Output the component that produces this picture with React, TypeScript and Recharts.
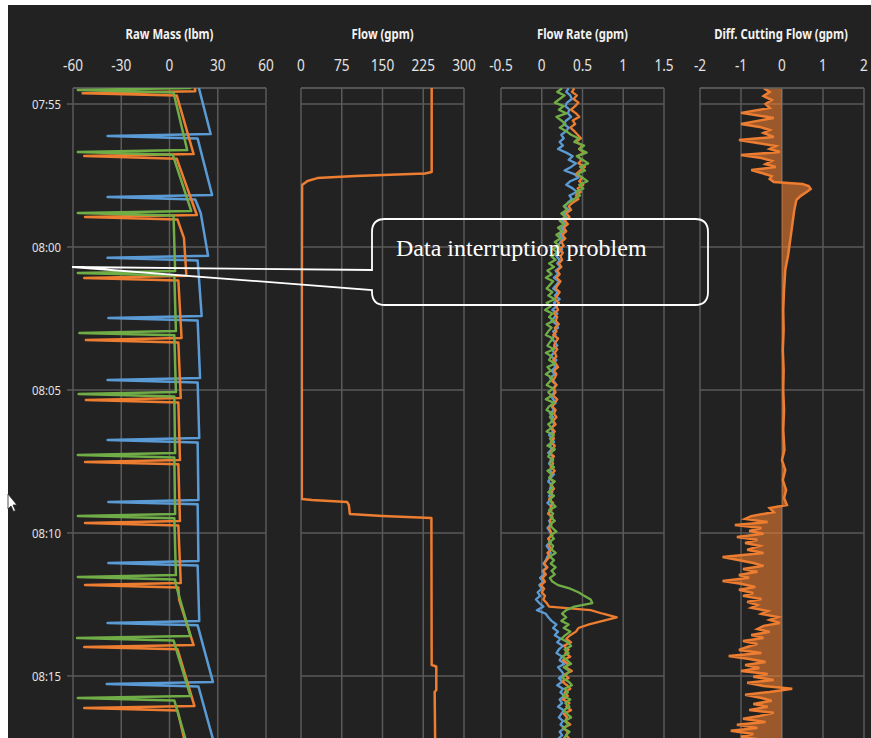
import React from "react";
import {
  ComposedChart,
  Line,
  Area,
  XAxis,
  YAxis,
  CartesianGrid,
  ReferenceLine,
} from "recharts";

const BLUE = "#5b9bd5";
const ORANGE = "#ed7d31";
const GREEN = "#70ad47";
const GRID = "#5a5a5a";
const TEXT = "#e4e4e4";
const BG = "#222222";
const FONT = "'Noto Sans', 'Open Sans', sans-serif";

// time in minutes after 07:00
const T_START = 54.44;
const T_END = 77.94;
const timeTicks = [55, 60, 65, 70, 75];

const massTicks = [-60, -30, 0, 30, 60];
const flowTicks = [0, 75, 150, 225, 300];
const rateTicks = [-0.5, 0, 0.5, 1, 1.5];
const diffTicks = [-2, -1, 0, 1, 2];

// Raw Mass (lbm)
const massBlueTime = [54.16, 56.05, 56.12, 56.21, 58.18, 58.25, 58.34, 58.81, 60.31, 60.38, 60.47, 62.41, 62.48, 62.57, 64.58, 64.65, 64.74, 66.68, 66.75, 66.84, 68.85, 68.92, 69.0, 70.98, 71.05, 71.14, 73.08, 73.15, 73.23, 75.21, 75.28, 75.37, 77.41];
const massBlueValue = [17, 25.6, -38.5, 17.5, 26.5, -38.5, 16, 19.4, 24, -38.5, 17.5, 20, -38, 17.5, 19, -38.5, 17.5, 18.5, -38.5, 17.5, 18, -38, 17.5, 18, -38, 17.5, 18.5, -38.5, 17.5, 27, -39, 18, 28];

const massOrangeTime = [54.16, 54.55, 54.62, 54.7, 56.75, 56.82, 56.91, 58.88, 58.95, 59.04, 59.69, 61.01, 61.08, 61.17, 63.18, 63.25, 63.34, 65.28, 65.35, 65.44, 67.45, 67.52, 67.6, 69.58, 69.65, 69.74, 71.75, 71.82, 71.91, 72.34, 73.92, 73.99, 74.07, 76.05, 76.12, 76.21, 77.41];
const massOrangeValue = [15.5, 16, -54, 4.5, 15, -53, 4.5, 17, -52.5, 5, 9, 10.5, -53, 5.5, 7.5, -52, 5.5, 7, -52, 5.5, 6.5, -52.5, 5.5, 6.5, -52.5, 5.5, 7, -52.5, 5.5, 6, 15, -53, 5, 15.5, -53, 5, 10];

const massGreenTime = [54.16, 54.44, 54.51, 54.6, 56.61, 56.68, 56.77, 58.74, 58.81, 58.9, 60.84, 60.91, 61.0, 62.94, 63.01, 63.09, 65.07, 65.14, 65.23, 67.2, 67.27, 67.36, 69.34, 69.41, 69.49, 71.47, 71.54, 71.63, 71.82, 73.6, 73.67, 73.76, 75.7, 75.77, 75.86, 77.41];
const massGreenValue = [12.5, 13, -57, 2.5, 11, -57, 2, 13.5, -57, 2.5, 3.5, -57, 3, 4, -56, 3, 4, -56.5, 3, 3.5, -57, 3, 3.5, -57, 3, 4, -57, 3.5, 4, 13, -57.5, 2.5, 13, -57, 3, 11];

// Flow (gpm)
const flowTime = [54.16, 57.38, 57.43, 57.52, 57.59, 57.69, 57.83, 61.85, 68.81, 68.85, 68.92, 69.02, 69.34, 69.41, 69.48, 74.62, 74.67, 75.49, 75.56, 77.41];
const flowValue = [240.5, 240.5, 228, 100, 30, 12, 2, 1.5, 1.5, 20, 85, 88, 90, 150, 240, 240.5, 249, 249, 246, 247];

// Flow Rate (gpm), one sample every 7.5 s from 07:54:27
const rateStart = 54.45;
const rateStep = 0.125;
const rateBlue = [
  0.33, 0.3, 0.35, 0.37, 0.31, 0.29, 0.34, 0.32, 0.36, 0.3, 0.27, 0.33, 0.3,
  0.24, 0.27, 0.22, 0.26,
  0.2, 0.3, 0.38, 0.33, 0.42, 0.36, 0.28, 0.4, 0.45, 0.35, 0.3, 0.38, 0.43, 0.34, 0.37,
  0.32, 0.28, 0.33, 0.27, 0.3, 0.25, 0.29, 0.24, 0.28, 0.22, 0.26, 0.23, 0.2, 0.25, 0.21, 0.18, 0.22,
  0.19, 0.23, 0.17, 0.2, 0.15, 0.21, 0.18, 0.14, 0.2, 0.16, 0.22, 0.15, 0.18, 0.13, 0.19, 0.16, 0.12, 0.18, 0.2, 0.14,
  0.17, 0.12, 0.16, 0.19, 0.13, 0.15, 0.11, 0.18, 0.14, 0.17, 0.12, 0.16, 0.1, 0.15, 0.18, 0.13, 0.16, 0.11, 0.14, 0.17,
  0.12, 0.15, 0.1, 0.14,
  0.12, 0.16, 0.11, 0.14, 0.09, 0.13, 0.15, 0.1, 0.12, 0.08, 0.14, 0.11, 0.09, 0.13, 0.1, 0.15, 0.11, 0.08, 0.12, 0.1,
  0.13, 0.09, 0.11, 0.07, 0.12, 0.1, 0.08, 0.13, 0.09, 0.11, 0.07, 0.1, 0.12, 0.08, 0.1, 0.06, 0.09, 0.11, 0.07,
  0.05, 0.02, 0.06, 0.01, 0.03, -0.02, 0.02, -0.03, 0.0,
  -0.05, -0.02, -0.07, -0.03, 0.02, -0.06, 0.05, 0.08,
  0.12, 0.18, 0.14, 0.2,
  0.16, 0.23, 0.19, 0.26, 0.21, 0.18, 0.25, 0.22, 0.28, 0.2, 0.24, 0.27, 0.21, 0.25, 0.19, 0.26, 0.23, 0.28, 0.22, 0.25,
  0.2, 0.27, 0.24, 0.21, 0.26, 0.23, 0.28, 0.22, 0.25, 0.2, 0.24, 0.26,
];
const rateOrange = [
  0.4, 0.37, 0.43, 0.39, 0.45, 0.41, 0.36, 0.42, 0.46, 0.38, 0.41, 0.35, 0.4,
  0.44, 0.48, 0.42, 0.5, 0.46, 0.52, 0.44, 0.49, 0.45, 0.53, 0.47, 0.42, 0.5, 0.46, 0.51, 0.44, 0.48, 0.42, 0.45,
  0.38, 0.33, 0.36, 0.3, 0.34, 0.28, 0.32, 0.27, 0.3, 0.25, 0.29, 0.24, 0.27, 0.22, 0.26, 0.23, 0.25,
  0.21, 0.24, 0.19, 0.22, 0.18, 0.23, 0.2, 0.17, 0.22, 0.19, 0.16, 0.21, 0.18, 0.2, 0.15, 0.19, 0.17, 0.21, 0.16, 0.18,
  0.14, 0.2, 0.17, 0.15, 0.19, 0.16, 0.18, 0.14, 0.17, 0.2, 0.15, 0.18, 0.16, 0.13, 0.18, 0.15, 0.17, 0.14, 0.19, 0.16,
  0.13, 0.17, 0.15, 0.18,
  0.14, 0.17, 0.12, 0.16, 0.13, 0.15, 0.11, 0.16, 0.13, 0.1, 0.15, 0.12, 0.14, 0.11, 0.16, 0.12, 0.1, 0.14, 0.12, 0.15,
  0.11, 0.13, 0.09, 0.14, 0.11, 0.12, 0.08, 0.13, 0.1, 0.12, 0.09, 0.11, 0.13, 0.08, 0.11, 0.09, 0.12, 0.07, 0.1,
  0.06, 0.03, 0.07, 0.02, 0.05, 0.01, 0.04, -0.01, 0.03, 0.0, 0.04, 0.02, 0.06, 0.09,
  0.6, 0.75, 0.92, 0.75, 0.58, 0.45, 0.42, 0.35,
  0.3, 0.36, 0.27, 0.33, 0.29, 0.35, 0.26, 0.32, 0.3, 0.37, 0.28, 0.33, 0.25, 0.31, 0.35, 0.28, 0.32, 0.26, 0.34, 0.3,
  0.36, 0.27, 0.31, 0.29, 0.35, 0.26, 0.32, 0.3, 0.34, 0.28, 0.31,
];
const rateGreen = [
  0.25, 0.19, 0.28, 0.22, 0.16, 0.27, 0.21, 0.3, 0.18, 0.24, 0.29, 0.22, 0.3,
  0.36, 0.45, 0.4, 0.52, 0.46, 0.55, 0.43, 0.5, 0.57, 0.47, 0.53, 0.44, 0.5, 0.56, 0.46, 0.51, 0.42, 0.47, 0.4,
  0.33, 0.27, 0.31, 0.24, 0.29, 0.22, 0.27, 0.2, 0.25, 0.18, 0.23, 0.16, 0.21, 0.14, 0.19, 0.12, 0.17,
  0.09, 0.15, 0.07, 0.12, 0.05, 0.14, 0.1, 0.06, 0.13, 0.08, 0.16, 0.06, 0.11, 0.04, 0.13, 0.09, 0.15, 0.06, 0.12, 0.08,
  0.05, 0.14, 0.1, 0.07, 0.15, 0.05, 0.12, 0.09, 0.16, 0.07, 0.11, 0.05, 0.13, 0.1, 0.06, 0.14, 0.08, 0.12, 0.05, 0.15,
  0.09, 0.06, 0.13, 0.1,
  0.14, 0.08, 0.12, 0.06, 0.15, 0.1, 0.13, 0.07, 0.16, 0.11, 0.08, 0.14, 0.1, 0.15, 0.07, 0.12, 0.09, 0.16, 0.11, 0.13,
  0.08, 0.15, 0.1, 0.12, 0.17, 0.09, 0.14, 0.11, 0.16, 0.1, 0.13, 0.18, 0.11, 0.15, 0.09, 0.14, 0.12, 0.17, 0.1,
  0.15, 0.11, 0.17, 0.12, 0.16, 0.1, 0.13,
  0.2, 0.35, 0.45, 0.52, 0.6, 0.62, 0.4, 0.3, 0.25,
  0.3, 0.24, 0.33, 0.27, 0.35, 0.29, 0.24, 0.32, 0.36, 0.28, 0.33, 0.25, 0.31, 0.36, 0.27, 0.34, 0.3, 0.25, 0.33, 0.37,
  0.28, 0.32, 0.26, 0.35, 0.29, 0.34, 0.27, 0.31, 0.36, 0.28, 0.33, 0.26, 0.34, 0.3, 0.27, 0.33, 0.29,
];

// Diff. Cutting Flow (gpm)
const diffTime = [
  54.44, 54.58, 54.72, 54.86, 55.0, 55.14, 55.31, 55.42, 55.49, 55.59,
  55.7, 55.8, 55.91, 56.01, 56.15, 56.26, 56.36, 56.47, 56.57, 56.68,
  56.78, 56.89, 56.99, 57.1, 57.2, 57.31, 57.41, 57.52, 57.62, 57.73,
  57.8, 57.87, 57.97, 58.08, 58.22, 58.36, 58.71, 59.23, 59.76, 60.28,
  60.8, 61.5, 62.2, 62.9, 63.6, 64.3, 65.0, 65.7, 66.4, 67.1,
  67.45, 67.8, 68.15, 68.5, 68.78, 69.02, 69.13,
  69.27, 69.41, 69.51, 69.62, 69.72, 69.83, 69.93, 70.03, 70.14, 70.24,
  70.35, 70.45, 70.59, 70.7, 70.84, 70.94, 71.05, 71.15, 71.26, 71.36,
  71.47, 71.57, 71.68, 71.78, 71.89, 71.99, 72.1, 72.2, 72.31, 72.41,
  72.52, 72.62, 72.73, 72.83, 72.94, 73.04, 73.15, 73.25, 73.36, 73.46,
  73.57, 73.67, 73.78, 73.88, 73.99, 74.09, 74.2, 74.3, 74.41, 74.51,
  74.62, 74.72, 74.83, 74.93, 75.03, 75.14, 75.24, 75.35, 75.45, 75.56,
  75.66, 75.77, 75.87, 75.98, 76.08, 76.19, 76.29, 76.4, 76.5, 76.61,
  76.71, 76.82, 76.92, 77.03, 77.13, 77.24, 77.41,
];
const diffValue = [
  -0.45, -0.3, -0.45, -0.25, -0.4, -0.3, -1.0, -0.5, -0.2, -0.6,
  -1.0, -0.55, -0.3, -0.45, -0.2, -1.05, -0.6, -0.15, -0.3, -0.05,
  -1.0, -0.5, -0.25, -0.4, -0.15, -0.75, -0.5, -0.25, -0.3, -0.2,
  0.5, 0.65, 0.7, 0.6, 0.45, 0.35, 0.3, 0.25, 0.2, 0.15,
  0.08, 0.05, 0.03, 0.04, 0.02, 0.04, 0.03, 0.05, 0.03, 0.06,
  0.0, 0.08, 0.02, 0.1, 0.05, 0.12, -0.3,
  -0.2, -0.75, -0.9, -0.35, -1.15, -0.5, -0.8, -0.45, -1.1, -0.6,
  -0.9, -0.55, -0.85, -0.45, -1.45, -1.1, -0.7, -0.45, -0.95, -0.6,
  -1.05, -0.8, -1.45, -1.0, -0.65, -1.05, -0.7, -0.95, -0.5, -0.85,
  -0.6, -0.75, -0.35, -0.5, -0.1, -0.3, -0.05, -0.45, -0.6, -0.3,
  -0.75, -0.45, -0.95, -0.6, -0.85, -1.05, -0.5, -1.3, -0.8, -0.4,
  -0.9, -0.55, -1.0, -0.35, -0.7, -0.2, -0.85, -0.45, 0.25, -0.3,
  -0.9, -0.5, -0.25, -0.7, -0.35, -0.8, -0.2, -0.55, -0.95, -0.4,
  -1.1, -0.6, -1.25, -0.7, -1.0, -0.45, -0.8,
];

const toRows = (ts: number[], vs: number[]) => ts.map((t, i) => ({ t, v: vs[i] }));
const rateRows = (vs: number[]) => vs.map((v, i) => ({ t: rateStart + i * rateStep, v }));

const fmtTime = (m: number) => {
  const h = 7 + Math.floor(m / 60);
  const mm = Math.round(m % 60);
  return `${String(h).padStart(2, "0")}:${String(mm).padStart(2, "0")}`;
};

const XTick = (props: any) => {
  const { x, y, payload } = props;
  return (
    <text
      transform={`translate(${x},${y}) scale(0.85,1)`}
      textAnchor="middle"
      fill={TEXT}
      fontSize={16}
      fontFamily={FONT}
    >
      {payload.value}
    </text>
  );
};

const YTick = (props: any) => {
  const { x, y, payload } = props;
  return (
    <text
      transform={`translate(${x},${y + 4.8}) scale(0.84,1)`}
      textAnchor="end"
      fill={TEXT}
      fontSize={13.5}
      fontFamily={FONT}
    >
      {fmtTime(payload.value)}
    </text>
  );
};

const CH_H = 760;

function Panel({
  left,
  width,
  axisW,
  domain,
  ticks,
  children,
}: {
  left: number;
  width: number;
  axisW: number;
  domain: [number, number];
  ticks: number[];
  children: React.ReactNode;
}) {
  const showTime = axisW > 0;
  return (
    <div style={{ position: "absolute", left, top: 0 }}>
      <ComposedChart
        width={width}
        height={CH_H}
        layout="vertical"
        margin={{ top: 0, right: 20, bottom: 0, left: showTime ? 0 : 20 }}
      >
        <CartesianGrid stroke={GRID} strokeWidth={1.5} />
        <XAxis
          type="number"
          orientation="top"
          domain={domain}
          ticks={ticks}
          allowDataOverflow
          height={88}
          tickSize={0}
          tickMargin={17}
          axisLine={false}
          tickLine={false}
          tick={<XTick />}
          interval={0}
        />
        <YAxis
          type="number"
          dataKey="t"
          domain={[T_START, T_END]}
          ticks={timeTicks}
          allowDataOverflow
          hide={!showTime}
          width={axisW}
          axisLine={false}
          tickLine={{ stroke: GRID, strokeWidth: 1.5 }}
          tickSize={6}
          tickMargin={6}
          tick={<YTick />}
          interval={0}
        />
        <ReferenceLine y={T_START} stroke={GRID} strokeWidth={1.5} />
        {children}
      </ComposedChart>
    </div>
  );
}

const lineProps = {
  type: "linear" as const,
  dataKey: "v",
  dot: false,
  strokeWidth: 2.5,
  isAnimationActive: false,
  strokeLinejoin: "round" as const,
};

export default function App() {
  return (
    <div
      style={{
        position: "fixed",
        left: 0,
        top: 0,
        width: 871,
        height: 738,
        overflow: "hidden",
        background: "#ffffff",
      }}
    >
      <div style={{ position: "absolute", left: 8, top: 5, right: 0, bottom: 0, background: BG }} />

      <Panel left={0} width={286} axisW={73} domain={[-60, 60]} ticks={massTicks}>
        <Line {...lineProps} data={toRows(massBlueTime, massBlueValue)} stroke={BLUE} />
        <Line {...lineProps} data={toRows(massOrangeTime, massOrangeValue)} stroke={ORANGE} />
        <Line {...lineProps} data={toRows(massGreenTime, massGreenValue)} stroke={GREEN} />
      </Panel>

      <Panel left={281} width={203} axisW={0} domain={[0, 300]} ticks={flowTicks}>
        <Line {...lineProps} data={toRows(flowTime, flowValue)} stroke={ORANGE} />
      </Panel>

      <Panel left={481} width={203} axisW={0} domain={[-0.5, 1.5]} ticks={rateTicks}>
        <Line {...lineProps} strokeWidth={2.3} data={rateRows(rateBlue)} stroke={BLUE} />
        <Line {...lineProps} strokeWidth={2.3} data={rateRows(rateOrange)} stroke={ORANGE} />
        <Line {...lineProps} strokeWidth={2.3} data={rateRows(rateGreen)} stroke={GREEN} />
      </Panel>

      <Panel left={680} width={204} axisW={0} domain={[-2, 2]} ticks={diffTicks}>
        <Area
          type="linear"
          dataKey="v"
          data={toRows(diffTime, diffValue)}
          stroke={ORANGE}
          strokeWidth={2.5}
          fill={ORANGE}
          fillOpacity={0.6}
          isAnimationActive={false}
          baseValue={0}
        />
      </Panel>

      <svg
        width={871}
        height={738}
        style={{ position: "absolute", left: 0, top: 0, pointerEvents: "none" }}
      >
        {[
          { cx: 169.5, label: "Raw Mass (lbm)" },
          { cx: 382.5, label: "Flow (gpm)" },
          { cx: 582.5, label: "Flow Rate (gpm)" },
          { cx: 781, label: "Diff. Cutting Flow (gpm)" },
        ].map((t) => (
          <text
            key={t.label}
            transform={`translate(${t.cx},38.5) scale(0.81,1)`}
            textAnchor="middle"
            fill="#f2f2f2"
            fontSize={14}
            fontWeight={700}
            fontFamily={FONT}
          >
            {t.label}
          </text>
        ))}
        <path
          d="M 385 219 H 695 Q 708 219 708 232 V 292 Q 708 305 695 305 H 385 Q 372 305 372 292 V 290 L 72 267 L 372 270 V 232 Q 372 219 385 219 Z"
          fill="none"
          stroke="#ffffff"
          strokeWidth={1.8}
        />
        <text
          x={396}
          y={256}
          fill="#ffffff"
          fontSize={24}
          fontFamily="'Liberation Serif', 'Times New Roman', serif"
        >
          Data interruption problem
        </text>
        {/* mouse pointer left on the screenshot */}
        <path
          d="M 8 494 L 8 509 L 11 506 L 13.5 511.5 L 15.5 510.5 L 13 505 L 17 505 Z"
          fill="#ffffff"
          stroke="#222222"
          strokeWidth={0.8}
        />
      </svg>
    </div>
  );
}
